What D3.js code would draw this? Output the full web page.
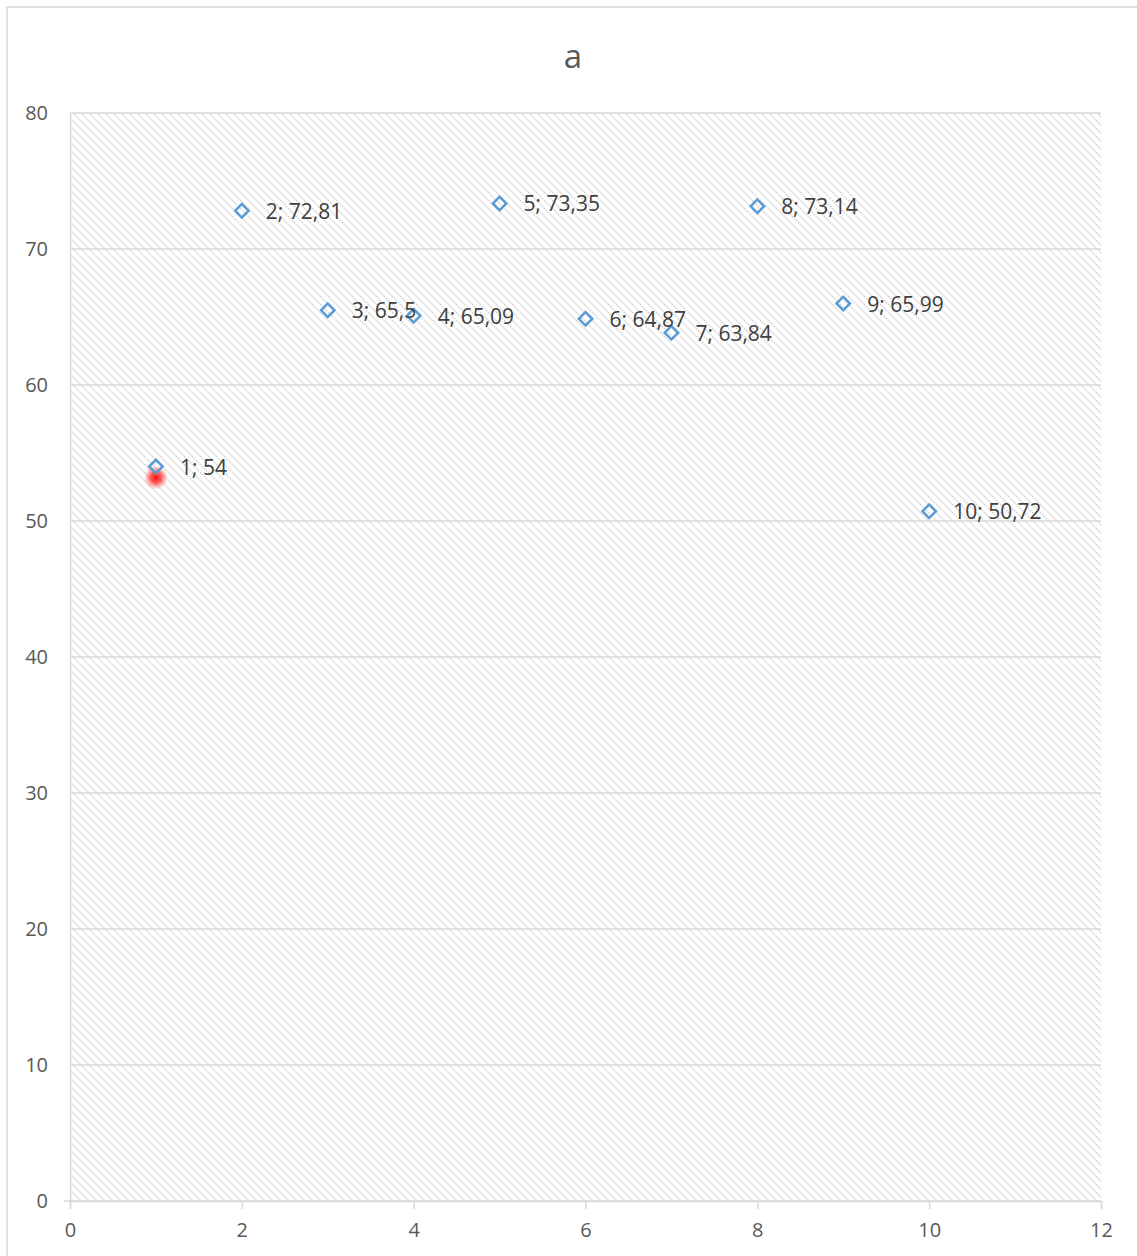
<!DOCTYPE html>
<html>
<head>
<meta charset="utf-8">
<script src="https://cdn.jsdelivr.net/npm/d3@7"></script>
<style>
  body { margin: 0; background: #fff; }
  svg { display: block; font-family: "Open Sans", "Noto Sans", sans-serif; }
</style>
</head>
<body>
<svg id="chart" width="1137" height="1256"></svg>
<script>
// data
const xs = [1, 2, 3, 4, 5, 6, 7, 8, 9, 10];
const ys = [54, 72.81, 65.5, 65.09, 73.35, 64.87, 63.84, 73.14, 65.99, 50.72];
const labels = ["1; 54", "2; 72,81", "3; 65,5", "4; 65,09", "5; 73,35", "6; 64,87", "7; 63,84", "8; 73,14", "9; 65,99", "10; 50,72"];
const xTicks = [0, 2, 4, 6, 8, 10, 12];
const yTicks = [0, 10, 20, 30, 40, 50, 60, 70, 80];

const svg = d3.select("#chart");
const W = 1137, H = 1256;
const plotLeft = 70, plotRight = 1101, plotTop = 113, plotBottom = 1201;

const x = d3.scaleLinear().domain([0, 12]).range([plotLeft, plotRight]);
const y = d3.scaleLinear().domain([0, 80]).range([plotBottom, plotTop]);

// chart frame
svg.append("rect")
	.attr("x", 7).attr("y", 7)
	.attr("width", W + 10).attr("height", H + 10)
	.attr("fill", "#fff")
	.attr("stroke", "#d9d9d9")
	.attr("stroke-width", 1.5);

const defs = svg.append("defs");
const pat = defs.append("pattern")
	.attr("id", "hatch")
	.attr("patternUnits", "userSpaceOnUse")
	.attr("width", 8).attr("height", 8);
pat.append("rect").attr("width", 8).attr("height", 8).attr("fill", "#fff");
pat.append("path")
	.attr("d", "M-2,-2 L10,10 M-2,6 L2,10 M6,-2 L10,2")
	.attr("stroke", "#d3d3d3")
	.attr("stroke-width", 1.5)
	.attr("stroke-dasharray", "1.8,1");

const glow = defs.append("radialGradient").attr("id", "glow");
glow.append("stop").attr("offset", "0%").attr("stop-color", "#ff0000").attr("stop-opacity", 0.95);
glow.append("stop").attr("offset", "45%").attr("stop-color", "#ff1a1a").attr("stop-opacity", 0.7);
glow.append("stop").attr("offset", "100%").attr("stop-color", "#ff4d4d").attr("stop-opacity", 0);

// plot area
svg.append("rect")
	.attr("x", plotLeft).attr("y", plotTop)
	.attr("width", plotRight - plotLeft).attr("height", plotBottom - plotTop)
	.attr("fill", "url(#hatch)");

// gridlines
svg.append("g")
	.selectAll("line")
	.data(yTicks)
	.join("line")
	.attr("x1", d => d === 0 ? plotLeft - 6 : plotLeft)
	.attr("x2", plotRight)
	.attr("y1", d => y(d)).attr("y2", d => y(d))
	.attr("stroke", "#d9d9d9")
	.attr("stroke-width", 1.5);

// x axis
const xAxis = svg.append("g")
	.attr("transform", `translate(0,${plotBottom})`)
	.call(d3.axisBottom(x).tickValues(xTicks).tickSize(8).tickPadding(14).tickFormat(d3.format("d")));
xAxis.select(".domain").attr("stroke", "#d9d9d9").attr("stroke-width", 1.5);
xAxis.selectAll(".tick line").attr("stroke", "#d9d9d9").attr("stroke-width", 1.5);
xAxis.selectAll(".tick text")
	.attr("fill", "#595959")
	.style("font-size", "20px")
	.style("font-family", "'Open Sans', sans-serif");

// y axis
const yAxis = svg.append("g")
	.attr("transform", `translate(${plotLeft},0)`)
	.call(d3.axisLeft(y).tickValues(yTicks).tickSize(0).tickPadding(22).tickFormat(d3.format("d")));
yAxis.select(".domain").attr("stroke", "#d9d9d9").attr("stroke-width", 1.5);
yAxis.selectAll(".tick text")
	.attr("fill", "#595959")
	.style("font-size", "20px")
	.style("font-family", "'Open Sans', sans-serif");

// title
svg.append("text")
	.attr("x", 573).attr("y", 68)
	.attr("text-anchor", "middle")
	.attr("fill", "#595959")
	.style("font-size", "33px")
	.text("a");

// red blur near first point
svg.append("circle")
	.attr("cx", x(xs[0])).attr("cy", y(ys[0]) + 11)
	.attr("r", 12)
	.attr("fill", "url(#glow)");

const pts = xs.map((d, i) => ({ x: d, y: ys[i], label: labels[i] }));

// markers
svg.append("g")
	.selectAll("path")
	.data(pts)
	.join("path")
	.attr("d", d3.symbol().type(d3.symbolSquare).size(90))
	.attr("transform", d => `translate(${x(d.x)},${y(d.y)}) rotate(45)`)
	.attr("fill", "none")
	.attr("stroke", "#5b9bd5")
	.attr("stroke-width", 2.5);

// data labels
svg.append("g")
	.selectAll("text")
	.data(pts)
	.join("text")
	.attr("x", d => x(d.x) + 24)
	.attr("y", d => y(d.y) + 8)
	.attr("fill", "#404040")
	.style("font-size", "21px")
	.text(d => d.label);
</script>
</body>
</html>
